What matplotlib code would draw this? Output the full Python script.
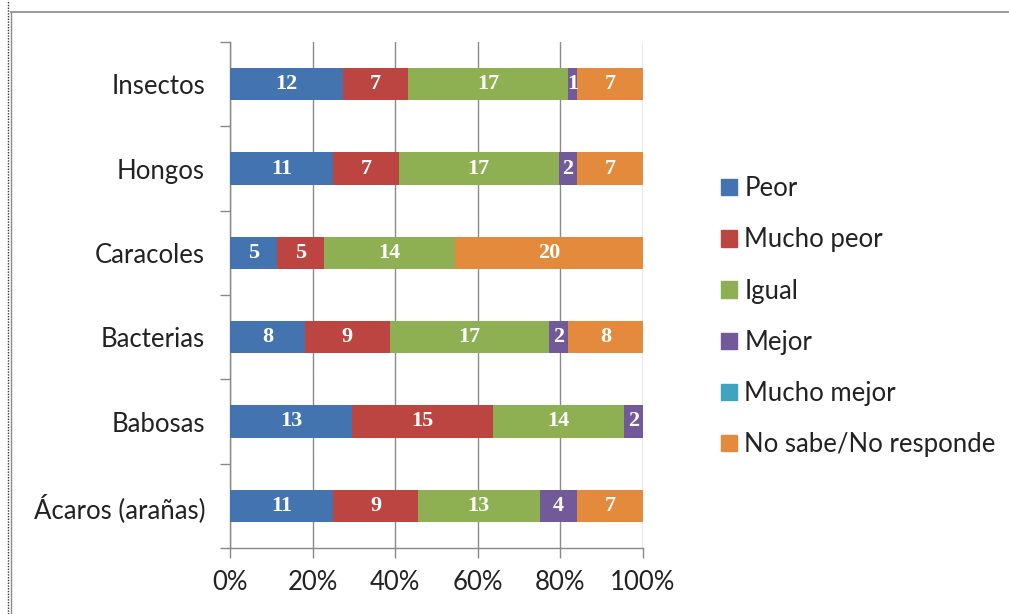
import matplotlib
matplotlib.use("Agg")
import matplotlib.pyplot as plt
from matplotlib.patches import Rectangle
import numpy as np

categories = ["Ácaros (arañas)", "Babosas", "Bacterias", "Caracoles", "Hongos", "Insectos"]
series = ["Peor", "Mucho peor", "Igual", "Mejor", "Mucho mejor", "No sabe/No responde"]
peor = [11, 13, 8, 5, 11, 12]
mucho_peor = [9, 15, 9, 5, 7, 7]
igual = [13, 14, 17, 14, 17, 17]
mejor = [4, 2, 2, 0, 2, 1]
mucho_mejor = [0, 0, 0, 0, 0, 0]
no_sabe = [7, 0, 8, 20, 7, 7]
colors = ["#4374B0", "#BC4541", "#8FB052", "#72599A", "#3FA4BE", "#E38A3C"]

data = np.array([peor, mucho_peor, igual, mejor, mucho_mejor, no_sabe], dtype=float)
totals = data.sum(axis=0)
pct = data / totals * 100

fig = plt.figure(figsize=(10.09, 6.14), dpi=100)
# outer frame lines like the source chart box
fig.add_artist(plt.Line2D([11 / 1009, 1], [1 - 12 / 614, 1 - 12 / 614], color="#8a8a8a", lw=1.2))
fig.add_artist(plt.Line2D([11 / 1009, 11 / 1009], [0, 1 - 12 / 614], color="#8a8a8a", lw=1.0))
fig.add_artist(plt.Line2D([8 / 1009, 8 / 1009], [0, 1], color="#333333", lw=1.0, ls=(0, (1, 1))))

ax = fig.add_axes([230 / 1009, 1 - 548 / 614, 413 / 1009, 506 / 614])
y = np.arange(len(categories))
left = np.zeros(len(categories))
for i, name in enumerate(series):
    ax.barh(y, pct[i], left=left, height=0.38, color=colors[i], label=name, zorder=3)
    for j in range(len(categories)):
        if data[i, j] > 0:
            ax.text(left[j] + pct[i, j] / 2, y[j], f"{int(data[i, j])}", ha="center", va="center",
                    color="white", fontsize=16, fontweight="bold", family="Liberation Serif", zorder=4)
    left += pct[i]

ax.set_xlim(0, 100)
ax.set_ylim(-0.5, len(categories) - 0.5)
ax.set_xticks(range(0, 101, 20))
ax.set_xticklabels([f"{v}%" for v in range(0, 101, 20)], fontsize=18.5, family="Lato", color="#222222")
ax.set_yticks(y)
ax.set_yticklabels(categories, fontsize=18.5, family="Lato", color="#222222")
ax.set_yticks(np.arange(-0.5, len(categories), 1), minor=True)
ax.tick_params(axis="y", which="major", length=0, pad=18)
ax.tick_params(axis="y", which="minor", length=7, color="#888888", width=1)
ax.tick_params(axis="x", length=7, color="#888888", width=1, pad=9)
ax.grid(axis="x", color="#8a8a8a", lw=1, zorder=0)
for s in ["top", "right"]:
    ax.spines[s].set_visible(False)
for s in ["left", "bottom"]:
    ax.spines[s].set_color("#888888")
    ax.spines[s].set_linewidth(1)

handles = [Rectangle((0, 0), 1, 1, color=c) for c in colors]
fig.legend(handles, series, loc="upper left", bbox_to_anchor=(711 / 1009, 1 - 166 / 614),
           frameon=False, prop={"family": "Lato", "size": 18.5}, handlelength=0.6, handleheight=0.6,
           handletextpad=0.3, labelspacing=1.02, borderaxespad=0, labelcolor="#222222")

fig.savefig("out.png", dpi=100)
